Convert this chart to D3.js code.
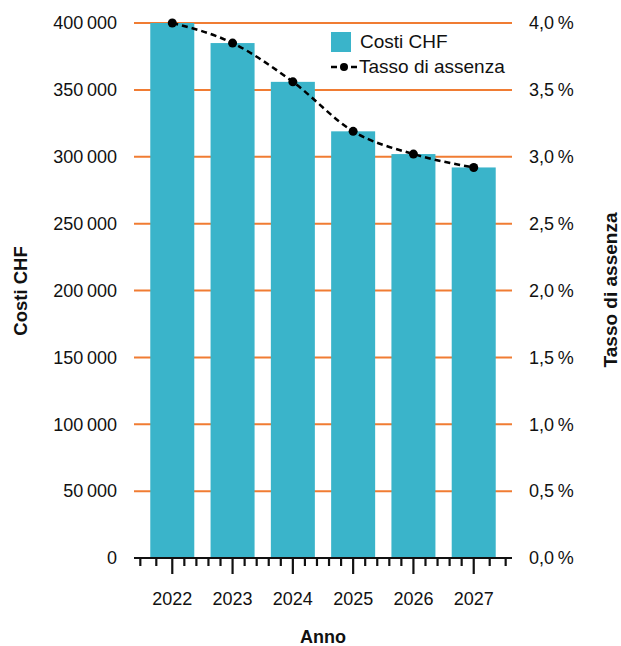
<!DOCTYPE html>
<html>
<head>
<meta charset="utf-8">
<script src="https://cdn.jsdelivr.net/npm/d3@7"></script>
<style>
  html, body { margin: 0; padding: 0; background: #fff; }
  svg { display: block; font-family: "Liberation Sans", Arial, Helvetica, sans-serif; }
</style>
</head>
<body>
<svg id="chart" width="621" height="646"></svg>
<script>
// Assenze: costi annuali (barre) e tasso di assenza (linea)
const years = ["2022", "2023", "2024", "2025", "2026", "2027"];
const costs = [400000, 385000, 356000, 319000, 302000, 292000];
const absenceRate = [4.00, 3.85, 3.56, 3.19, 3.02, 2.92];
const costTicks = [0, 50000, 100000, 150000, 200000, 250000, 300000, 350000, 400000];
const rateTicks = [0, 0.5, 1.0, 1.5, 2.0, 2.5, 3.0, 3.5, 4.0];

const BAR = "#3AB4CA";
const GRID = "#F07C33";

const svg = d3.select("#chart");
const plot = { left: 134, right: 512, top: 23, bottom: 558 };

const locale = d3.formatLocale({ decimal: ",", thousands: "\u202F", grouping: [3], currency: ["", " CHF"] });
const fmtCost = locale.format(",.0f");
const fmtRate = d => locale.format(".1f")(d) + "\u2009%";

const x = d3.scaleBand().domain(years).range([plot.left, plot.right]).paddingInner(0.27).paddingOuter(0.27);
const yCost = d3.scaleLinear().domain([0, 400000]).range([plot.bottom, plot.top]);
const yRate = d3.scaleLinear().domain([0, 4]).range([plot.bottom, plot.top]);

// grid lines (behind the bars)
svg.append("g").selectAll("line")
  .data(costTicks.filter(d => d > 0))
  .join("line")
  .attr("x1", plot.left).attr("x2", plot.right)
  .attr("y1", d => yCost(d)).attr("y2", d => yCost(d))
  .attr("stroke", GRID).attr("stroke-width", 2);

// left axis labels
const leftAxis = svg.append("g")
  .attr("transform", `translate(${plot.left},0)`)
  .call(d3.axisLeft(yCost).tickValues(costTicks).tickFormat(fmtCost).tickSize(0).tickPadding(17));
leftAxis.select(".domain").remove();
leftAxis.selectAll("text").attr("font-size", 18).attr("fill", "#111").attr("font-family", null);

// right axis labels
const rightAxis = svg.append("g")
  .attr("transform", `translate(${plot.right},0)`)
  .call(d3.axisRight(yRate).tickValues(rateTicks).tickFormat(fmtRate).tickSize(0).tickPadding(17));
rightAxis.select(".domain").remove();
rightAxis.selectAll("text").attr("font-size", 18).attr("fill", "#111").attr("font-family", null);

// bars
svg.append("g").selectAll("rect")
  .data(years.map((y, i) => ({ y, v: costs[i] })))
  .join("rect")
  .attr("x", d => x(d.y))
  .attr("width", x.bandwidth())
  .attr("y", d => yCost(d.v))
  .attr("height", d => yCost(0) - yCost(d.v))
  .attr("fill", BAR);

// x axis: baseline, major ticks at years, minor ticks between
const bottomAxis = svg.append("g")
  .attr("transform", `translate(0,${plot.bottom})`)
  .call(d3.axisBottom(x).tickSize(16).tickPadding(18).tickSizeOuter(0));
bottomAxis.select(".domain").attr("stroke", "#111").attr("stroke-width", 2.2).attr("d", `M${plot.left},0H${plot.right}`);
bottomAxis.selectAll(".tick line").attr("stroke", "#111").attr("stroke-width", 2.2);
bottomAxis.selectAll("text").attr("font-size", 18).attr("fill", "#111").attr("font-family", null);

const step = x.step();
const centers = years.map(d => x(d) + x.bandwidth() / 2);
const minor = [];
centers.forEach((c, i) => {
  if (i < centers.length - 1) [1, 2, 3, 4].forEach(k => minor.push(c + k * step / 5));
});
[0.265, 0.53].forEach(f => { minor.push(centers[0] - f * step); minor.push(centers[centers.length - 1] + f * step); });
svg.append("g").selectAll("line")
  .data(minor)
  .join("line")
  .attr("x1", d => d).attr("x2", d => d)
  .attr("y1", plot.bottom).attr("y2", plot.bottom + 8)
  .attr("stroke", "#111").attr("stroke-width", 2.2);

// absence rate line
const pts = years.map((y, i) => [x(y) + x.bandwidth() / 2, yRate(absenceRate[i])]);
svg.append("path")
  .attr("d", d3.line().curve(d3.curveMonotoneX)(pts))
  .attr("fill", "none").attr("stroke", "#000")
  .attr("stroke-width", 2.5).attr("stroke-dasharray", "6,4");
svg.append("g").selectAll("circle")
  .data(pts).join("circle")
  .attr("cx", d => d[0]).attr("cy", d => d[1]).attr("r", 4.5).attr("fill", "#000");

// axis titles
svg.append("text").attr("transform", "translate(27,291) rotate(-90)")
  .attr("text-anchor", "middle").attr("font-size", 18.5).attr("font-weight", "bold").attr("fill", "#111")
  .text("Costi CHF");
svg.append("text").attr("transform", "translate(617,290) rotate(-90)")
  .attr("text-anchor", "middle").attr("font-size", 19).attr("font-weight", "bold").attr("fill", "#111")
  .text("Tasso di assenza");
svg.append("text").attr("x", (plot.left + plot.right) / 2).attr("y", 643)
  .attr("text-anchor", "middle").attr("font-size", 18).attr("font-weight", "bold").attr("fill", "#111")
  .text("Anno");

// legend
const lg = svg.append("g").attr("transform", "translate(331,32)");
lg.append("rect").attr("width", 20).attr("height", 20).attr("fill", BAR);
lg.append("text").attr("x", 29).attr("y", 16).attr("font-size", 19).attr("fill", "#111").text("Costi CHF");
lg.append("line").attr("x1", 0).attr("x2", 26).attr("y1", 35).attr("y2", 35)
  .attr("stroke", "#000").attr("stroke-width", 2.5).attr("stroke-dasharray", "6,4");
lg.append("circle").attr("cx", 13).attr("cy", 35).attr("r", 4).attr("fill", "#000");
lg.append("text").attr("x", 28).attr("y", 41).attr("font-size", 19).attr("fill", "#111").text("Tasso di assenza");
</script>
</body>
</html>
